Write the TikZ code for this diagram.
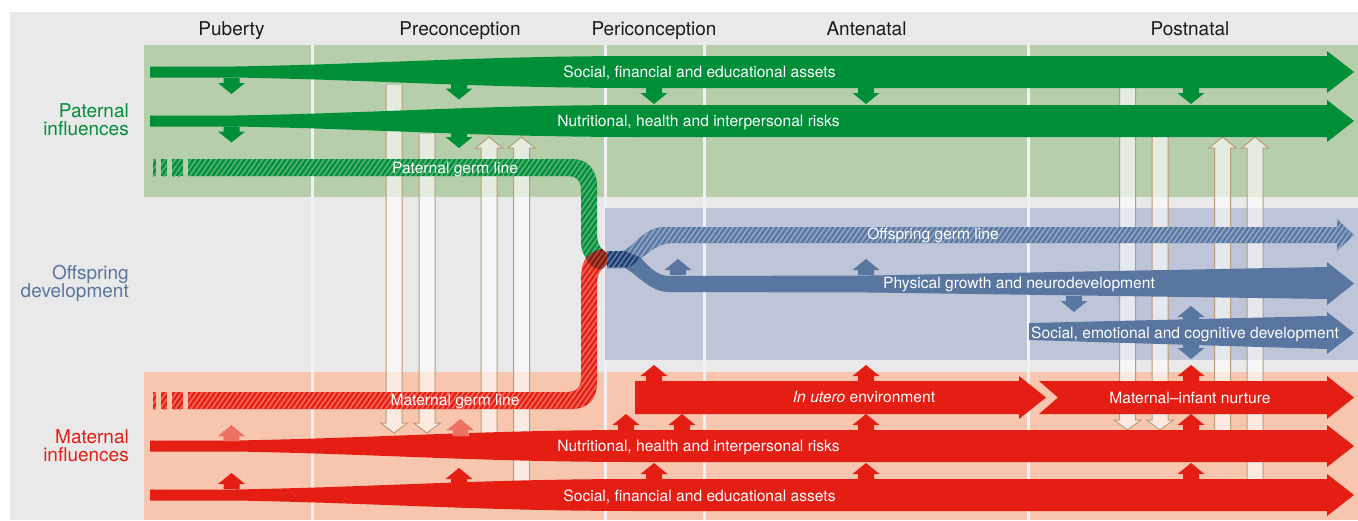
\documentclass[tikz,border=0pt]{standalone}
\usepackage{fontspec}
\setmainfont{TeX Gyre Heros}
\usetikzlibrary{patterns.meta}
\definecolor{cgreen}{HTML}{008F39}
\definecolor{cgreenL}{HTML}{55B075}
\definecolor{bandG}{HTML}{B6CEAA}
\definecolor{cred}{HTML}{E41E13}
\definecolor{credL}{HTML}{F4695A}
\definecolor{bandR}{HTML}{F8C6AE}
\definecolor{cblue}{HTML}{5976A0}
\definecolor{cblueL}{HTML}{8FA5C4}
\definecolor{bandB}{HTML}{BEC5D9}
\definecolor{bgGray}{HTML}{E9E9E9}
\definecolor{rib}{HTML}{F0F0F5}
\definecolor{pale}{HTML}{B89C78}
\definecolor{darkred}{HTML}{7A1E14}
\definecolor{darkredL}{HTML}{B8473A}
\definecolor{navy}{HTML}{1F3A6B}
\definecolor{navyL}{HTML}{5D7CA8}
\definecolor{ink}{HTML}{1A1A1A}
\tikzset{
  hatchG/.style={preaction={fill=cgreen},pattern={Lines[angle=55,distance=4.2pt,line width=1.7pt]},pattern color=cgreenL},
  hatchR/.style={preaction={fill=cred},pattern={Lines[angle=55,distance=4.2pt,line width=1.7pt]},pattern color=credL},
  hatchB/.style={preaction={fill=cblue},pattern={Lines[angle=55,distance=4.2pt,line width=1.7pt]},pattern color=cblueL},
  hatchDR/.style={preaction={fill=darkred},pattern={Lines[angle=55,distance=4.2pt,line width=1.7pt]},pattern color=darkredL},
  hatchDB/.style={preaction={fill=navy},pattern={Lines[angle=55,distance=4.2pt,line width=1.7pt]},pattern color=navyL},
  dotR/.style={preaction={fill=bandR},pattern={Dots[distance=2pt,radius=.8pt]},pattern color=cred},
  palearrow/.style={draw=pale,line width=1pt,fill=white,fill opacity=.62,draw opacity=1},
  lab/.style={inner sep=0pt,anchor=base,text=white,font=\fontsize{15.6}{18}\selectfont},
  head/.style={inner sep=0pt,anchor=base,text=ink,font=\fontsize{19}{20}\selectfont},
  side/.style={inner sep=0pt,align=right,anchor=east,font=\fontsize{19}{18.4}\selectfont},
}
% block arrow: colour, x, tip y
\newcommand\blockUp[3]{\fill[#1] ({#2-8},#3+16) -- ({#2-8},#3+11) -- ({#2-13.5},#3+11) -- (#2,#3) -- ({#2+13.5},#3+11) -- ({#2+8},#3+11) -- ({#2+8},#3+16) -- cycle;}
\newcommand\blockDown[3]{\fill[#1] ({#2-8},#3-16) -- ({#2-8},#3-11) -- ({#2-13.5},#3-11) -- (#2,#3) -- ({#2+13.5},#3-11) -- ({#2+8},#3-11) -- ({#2+8},#3-16) -- cycle;}
% pale arrows: x, far end y, tip y
\newcommand\paleDown[3]{\path[palearrow] ({#1-8},#2) -- ({#1-8},#3-10) -- ({#1-13.5},#3-10) -- (#1,#3) -- ({#1+13.5},#3-10) -- ({#1+8},#3-10) -- ({#1+8},#2);}
\newcommand\paleUp[3]{\path[palearrow] ({#1-8},#2) -- ({#1-8},#3+11) -- ({#1-13.5},#3+11) -- (#1,#3) -- ({#1+13.5},#3+11) -- ({#1+8},#3+11) -- ({#1+8},#2);}
% tapering main arrow: colour, centre y
\newcommand\mainArrow[2]{\fill[#1] (150,#2-5.5) -- (235,#2-5.5) .. controls (380,#2-8) and (480,#2-16) .. (640,#2-16) -- (1327,#2-16) -- (1327,#2-21) -- (1354,#2) -- (1327,#2+21) -- (1327,#2+16) -- (640,#2+16) .. controls (480,#2+16) and (380,#2+8) .. (235,#2+5.5) -- (150,#2+5.5) -- cycle;}
\begin{document}
\begin{tikzpicture}[x=1pt,y=-1pt]
\useasboundingbox (0,0) rectangle (1358,520);
% backgrounds
\fill[bgGray] (10,12) rectangle (1358,520);
\fill[bandG] (144,45) rectangle (1358,197);
\fill[bandR] (144,372) rectangle (1358,520);
\foreach \rx in {312,605.5,704,1028} {\fill[rib] ({\rx-1.5},45) rectangle ({\rx+1.5},520);}
\fill[bandB] (605,208) rectangle (1358,360);
\foreach \rx in {704,1028} {\fill[rib] ({\rx-1.5},208) rectangle ({\rx+1.5},360);}
% pale arrows
\paleDown{394}{85}{433}
\paleDown{427}{134}{433}
\paleUp{489}{434}{137}
\paleUp{521.5}{482}{137}
\paleDown{1127.5}{85}{430}
\paleDown{1160}{134}{430}
\paleUp{1222.5}{431}{137}
\paleUp{1255}{480}{137}
% maternal and paternal main arrows
\mainArrow{cgreen}{72}
\mainArrow{cgreen}{121}
\mainArrow{cred}{446}
\mainArrow{cred}{495}
% small green arrows
\blockDown{cgreen}{231.5}{94}
\blockDown{cgreen}{231.5}{142.5}
\blockDown{cgreen}{459}{99.5}
\blockDown{cgreen}{459}{148}
\blockDown{cgreen}{654}{104}
\blockDown{cgreen}{866}{104}
\blockDown{cgreen}{1191}{104}
% small red arrows
\fill[dotR] (223.5,441) -- (223.5,436) -- (218,436) -- (231.5,425) -- (245,436) -- (239.5,436) -- (239.5,441) -- cycle;
\fill[dotR] (452.5,436) -- (452.5,430) -- (447,430) -- (460.5,419) -- (474,430) -- (468.5,430) -- (468.5,436) -- cycle;
\blockUp{cred}{231.5}{473}
\blockUp{cred}{459}{468}
\blockUp{cred}{654}{463}
\blockUp{cred}{866}{463}
\blockUp{cred}{1191}{463}
\blockUp{cred}{626}{414}
\blockUp{cred}{682}{414}
\blockUp{cred}{866}{414}
\blockUp{cred}{1191}{414}
\blockUp{cred}{654}{365}
\blockUp{cred}{866}{365}
\blockUp{cred}{1191}{365}
% in utero and nurture
\fill[cred] (635,381) -- (1019,381) -- (1019,376) -- (1046,397.5) -- (1019,419) -- (1019,414) -- (635,414) -- cycle;
\fill[cred] (1039,381) -- (1327,381) -- (1327,376) -- (1354,397.5) -- (1327,419) -- (1327,414) -- (1039,414) -- (1058,397.5) -- cycle;
% germ-line stubs
\fill[hatchG] (153,159) rectangle (156,176);
\fill[hatchG] (161,159) rectangle (167,176);
\fill[hatchG] (172,159) rectangle (183,176);
\fill[hatchR] (153,392) rectangle (156,409);
\fill[hatchR] (161,392) rectangle (167,409);
\fill[hatchR] (172,392) rectangle (183,409);
% germ lines
\fill[hatchG] (188,159) -- (572,159) .. controls (588,159) and (597,170) .. (597,187) -- (597,234) .. controls (597,242) and (599,246) .. (602,249) -- (612,258) -- (602,269) .. controls (590,270) and (586,266) .. (586,258) .. controls (582,252) and (581,248) .. (581,240) -- (581,190) .. controls (581,181) and (577,176) .. (567,176) -- (188,176) -- cycle;
\fill[hatchR] (188,392) -- (567,392) .. controls (577,392) and (581,387) .. (581,378) -- (581,285) .. controls (581,272) and (582,264) .. (586,258) -- (602,249) -- (612,258) -- (602,269) .. controls (599,272) and (597,276) .. (597,285) -- (597,382) .. controls (597,399) and (588,409) .. (572,409) -- (188,409) -- cycle;
\fill[hatchDR] (586,258) .. controls (592,252) and (597,250) .. (602,249) -- (612,258) -- (602,269) .. controls (594,270) and (589,265) .. (586,258) -- cycle;
% blue arrows
\fill[cblue] (607,251) -- (625,251) -- (641,258) .. controls (650,268) and (658,276) .. (669,276) -- (870,275.5) -- (1327,267) -- (1327,262) -- (1354,283.5) -- (1327,305) -- (1327,299) -- (870,292.5) -- (669,292) .. controls (650,292) and (638,275) .. (625,268) -- (607,268) -- cycle;
\fill[hatchB] (607,251) -- (623,251) .. controls (636,245) and (644,227) .. (665,227) -- (1337,227) -- (1337,219) -- (1354,235) -- (1337,251) -- (1337,243) -- (673,243) .. controls (658,243) and (650,252) .. (641,258) -- (625,268) -- (607,268) -- cycle;
\fill[hatchDB] (607,251) -- (625,251) -- (641,258) -- (630,267) -- (607,267) -- cycle;
\fill[cblue] (1029,323) -- (1327,316) -- (1327,312) -- (1354,333) -- (1327,354) -- (1327,349) -- (1029,340) -- cycle;
\blockUp{cblue}{678}{259}
\blockUp{cblue}{866}{259}
\blockDown{cblue}{1074}{312}
\blockUp{cblue}{1191}{306}
\blockDown{cblue}{1191}{359}
% headings
\node[head] (hPub) at (231.5,35) {Puberty};
\node[head] (hPre) at (460,35) {Preconception};
\node[head] (hPeri) at (654,35) {Periconception};
\node[head] (hAnt) at (866.5,35) {Antenatal};
\node[head] (hPost) at (1190,35) {Postnatal};
\node[side,text=cgreen] (sPat) at (129,120) {Paternal\\influences};
\node[side,text=cblue] (sOff) at (129,283.5) {Offspring\\development};
\node[side,text=cred] (sMat) at (129,445.5) {Maternal\\influences};
% arrow labels
\node[lab] (a1) at (699.5,77) {Social, financial and educational assets};
\node[lab] (a2) at (698.5,126) {Nutritional, health and interpersonal risks};
\node[lab] (a3) at (455,173) {Paternal germ line};
\node[lab] (a4) at (933,239.5) {Offspring germ line};
\node[lab] (a5) at (1019,288.5) {Physical growth and neurodevelopment};
\node[lab] (a6) at (1185,338) {Social, emotional and cognitive development};
\node[lab] (a7) at (455,405) {Maternal germ line};
\node[lab] (a8) at (864,402) {\itshape In utero\upshape{} environment};
\node[lab] (a9) at (1190,403) {Maternal–infant nurture};
\node[lab] (a10) at (698.5,451.5) {Nutritional, health and interpersonal risks};
\node[lab] (a11) at (699.5,501) {Social, financial and educational assets};
\end{tikzpicture}
\end{document}
